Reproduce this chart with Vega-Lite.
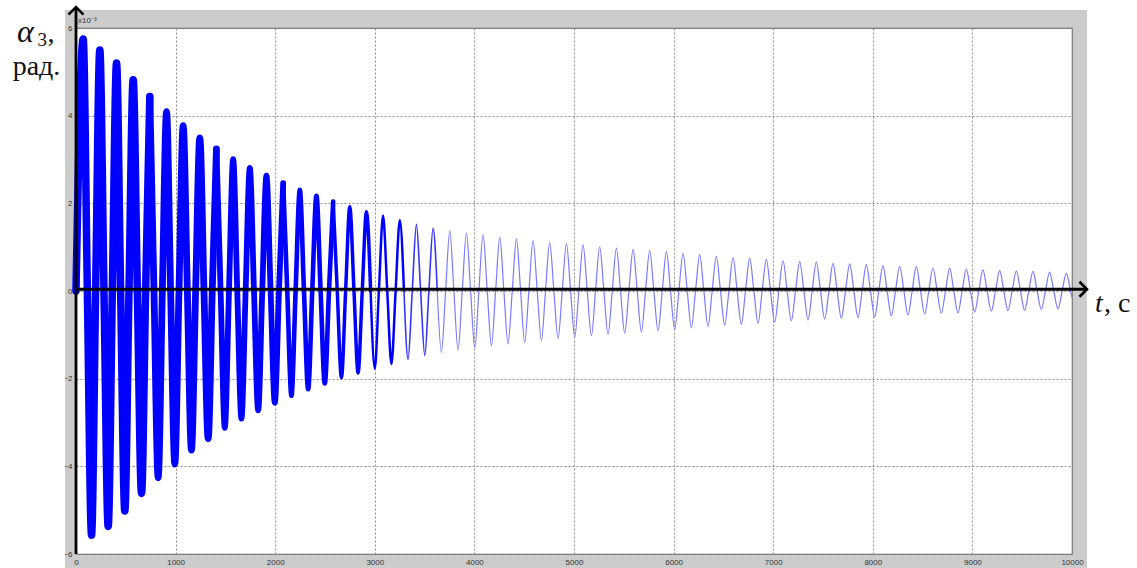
{
"$schema": "https://vega.github.io/schema/vega-lite/v6.json",
"width": 996, "height": 526,
"autosize": {"type": "none"},
"padding": {"left": 76, "top": 28, "right": 65, "bottom": 14},
"background": "#cccccc",
"config": {
 "view": {"fill": "white", "stroke": "#6e6e6e", "strokeWidth": 1.2},
 "axis": {"labelFont": "Liberation Sans", "labelFontSize": 8, "labelColor": "#333333", "ticks": false, "domain": false, "grid": true, "gridColor": "#8c8c8c", "gridDash": [2, 2], "gridWidth": 1, "labelPadding": 4, "labelFlush": false, "labelOverlap": false}
},
"data": {"values": [
{"t":0,"a":0},
{"t":72,"a":5.75},{"t":114,"a":0},{"t":156,"a":-5.57},{"t":197,"a":0},
{"t":239,"a":5.50},{"t":281,"a":0},{"t":323,"a":-5.37},{"t":365,"a":0},
{"t":407,"a":5.20},{"t":448,"a":0},{"t":490,"a":-5.02},{"t":532,"a":0},
{"t":574,"a":4.82},{"t":616,"a":0},{"t":658,"a":-4.62},{"t":699,"a":0},
{"t":741,"a":4.44},{"t":783,"a":0},{"t":825,"a":-4.26},{"t":867,"a":0},
{"t":909,"a":4.09},{"t":950,"a":0},{"t":992,"a":-3.95},{"t":1034,"a":0},
{"t":1076,"a":3.77},{"t":1118,"a":0},{"t":1159,"a":-3.63},{"t":1201,"a":0},
{"t":1243,"a":3.49},{"t":1285,"a":0},{"t":1327,"a":-3.37},{"t":1368,"a":0},
{"t":1410,"a":3.24},{"t":1452,"a":0},{"t":1494,"a":-3.12},{"t":1536,"a":0},
{"t":1578,"a":3.01},{"t":1619,"a":0},{"t":1661,"a":-2.91},{"t":1703,"a":0},
{"t":1745,"a":2.81},{"t":1787,"a":0},{"t":1829,"a":-2.72},{"t":1870,"a":0},
{"t":1912,"a":2.63},{"t":1954,"a":0},{"t":1996,"a":-2.55},{"t":2038,"a":0},
{"t":2080,"a":2.46},{"t":2121,"a":0},{"t":2163,"a":-2.39},{"t":2205,"a":0},
{"t":2247,"a":2.31},{"t":2289,"a":0},{"t":2331,"a":-2.24},{"t":2372,"a":0},
{"t":2414,"a":2.17},{"t":2456,"a":0},{"t":2498,"a":-2.11},{"t":2540,"a":0},
{"t":2582,"a":2.04},{"t":2623,"a":0},{"t":2665,"a":-1.98},{"t":2707,"a":0},
{"t":2749,"a":1.92},{"t":2791,"a":0},{"t":2832,"a":-1.87},{"t":2874,"a":0},
{"t":2916,"a":1.81},{"t":2958,"a":0},{"t":3000,"a":-1.77},{"t":3041,"a":0},
{"t":3083,"a":1.72},{"t":3125,"a":0},{"t":3167,"a":-1.67},{"t":3209,"a":0},
{"t":3251,"a":1.62},{"t":3293,"a":0},{"t":3334,"a":-1.56},{"t":3376,"a":0},
{"t":3418,"a":1.52},{"t":3460,"a":0},{"t":3502,"a":-1.47},{"t":3543,"a":0},
{"t":3585,"a":1.43},{"t":3627,"a":0},{"t":3669,"a":-1.40},{"t":3711,"a":0},
{"t":3753,"a":1.37},{"t":3794,"a":0},{"t":3836,"a":-1.35},{"t":3878,"a":0},
{"t":3920,"a":1.32},{"t":3962,"a":0},{"t":4004,"a":-1.30},{"t":4045,"a":0},
{"t":4087,"a":1.28},{"t":4129,"a":0},{"t":4171,"a":-1.25},{"t":4213,"a":0},
{"t":4255,"a":1.23},{"t":4296,"a":0},{"t":4338,"a":-1.21},{"t":4380,"a":0},
{"t":4422,"a":1.19},{"t":4464,"a":0},{"t":4505,"a":-1.17},{"t":4547,"a":0},
{"t":4589,"a":1.15},{"t":4631,"a":0},{"t":4673,"a":-1.13},{"t":4714,"a":0},
{"t":4756,"a":1.11},{"t":4798,"a":0},{"t":4840,"a":-1.09},{"t":4882,"a":0},
{"t":4924,"a":1.08},{"t":4966,"a":0},{"t":5007,"a":-1.05},{"t":5049,"a":0},
{"t":5091,"a":1.05},{"t":5133,"a":0},{"t":5175,"a":-1.02},{"t":5216,"a":0},
{"t":5258,"a":1.01},{"t":5300,"a":0},{"t":5342,"a":-0.99},{"t":5384,"a":0},
{"t":5426,"a":0.98},{"t":5467,"a":0},{"t":5509,"a":-0.96},{"t":5551,"a":0},
{"t":5593,"a":0.95},{"t":5635,"a":0},{"t":5677,"a":-0.94},{"t":5718,"a":0},
{"t":5760,"a":0.92},{"t":5802,"a":0},{"t":5844,"a":-0.91},{"t":5886,"a":0},
{"t":5928,"a":0.90},{"t":5969,"a":0},{"t":6011,"a":-0.87},{"t":6053,"a":0},
{"t":6095,"a":0.86},{"t":6137,"a":0},{"t":6178,"a":-0.84},{"t":6220,"a":0},
{"t":6262,"a":0.83},{"t":6304,"a":0},{"t":6346,"a":-0.81},{"t":6387,"a":0},
{"t":6429,"a":0.79},{"t":6471,"a":0},{"t":6513,"a":-0.78},{"t":6555,"a":0},
{"t":6597,"a":0.77},{"t":6638,"a":0},{"t":6680,"a":-0.76},{"t":6722,"a":0},
{"t":6764,"a":0.75},{"t":6806,"a":0},{"t":6848,"a":-0.74},{"t":6889,"a":0},
{"t":6931,"a":0.72},{"t":6973,"a":0},{"t":7015,"a":-0.71},{"t":7057,"a":0},
{"t":7099,"a":0.69},{"t":7140,"a":0},{"t":7182,"a":-0.68},{"t":7224,"a":0},
{"t":7266,"a":0.67},{"t":7308,"a":0},{"t":7350,"a":-0.66},{"t":7391,"a":0},
{"t":7433,"a":0.66},{"t":7475,"a":0},{"t":7517,"a":-0.64},{"t":7559,"a":0},
{"t":7601,"a":0.63},{"t":7642,"a":0},{"t":7684,"a":-0.62},{"t":7726,"a":0},
{"t":7768,"a":0.62},{"t":7810,"a":0},{"t":7851,"a":-0.61},{"t":7893,"a":0},
{"t":7935,"a":0.60},{"t":7977,"a":0},{"t":8019,"a":-0.59},{"t":8060,"a":0},
{"t":8102,"a":0.58},{"t":8144,"a":0},{"t":8186,"a":-0.57},{"t":8228,"a":0},
{"t":8270,"a":0.57},{"t":8312,"a":0},{"t":8353,"a":-0.55},{"t":8395,"a":0},
{"t":8437,"a":0.56},{"t":8479,"a":0},{"t":8521,"a":-0.53},{"t":8562,"a":0},
{"t":8604,"a":0.53},{"t":8646,"a":0},{"t":8688,"a":-0.51},{"t":8730,"a":0},
{"t":8772,"a":0.52},{"t":8813,"a":0},{"t":8855,"a":-0.50},{"t":8897,"a":0},
{"t":8939,"a":0.50},{"t":8981,"a":0},{"t":9023,"a":-0.48},{"t":9064,"a":0},
{"t":9106,"a":0.48},{"t":9148,"a":0},{"t":9190,"a":-0.46},{"t":9232,"a":0},
{"t":9274,"a":0.47},{"t":9315,"a":0},{"t":9357,"a":-0.45},{"t":9399,"a":0},
{"t":9441,"a":0.46},{"t":9483,"a":0},{"t":9524,"a":-0.44},{"t":9566,"a":0},
{"t":9608,"a":0.45},{"t":9650,"a":0},{"t":9692,"a":-0.42},{"t":9733,"a":0},
{"t":9775,"a":0.43},{"t":9817,"a":0},{"t":9859,"a":-0.41},{"t":9901,"a":0},
{"t":9943,"a":0.41},{"t":9985,"a":0},{"t":10000,"a":-0.15}
]},
"layer": [
 {"data": {"values": [{}]}, "mark": {"type": "rect", "color": "white"},
  "encoding": {"x": {"datum": -800, "type": "quantitative", "axis": {"title": null}}, "x2": {"datum": -110},
   "y": {"datum": -9, "type": "quantitative", "axis": {"title": null}}, "y2": {"datum": 7}}},
 {"data": {"values": [{}]}, "mark": {"type": "rect", "color": "white"},
  "encoding": {"x": {"datum": -800, "type": "quantitative", "axis": {"title": null}}, "x2": {"datum": 10800}, "y": {"datum": 6.41, "type": "quantitative", "axis": {"title": null}}, "y2": {"datum": 7}}},
 {"data": {"values": [{}]}, "mark": {"type": "rect", "color": "white"},
  "encoding": {"x": {"datum": 10151, "type": "quantitative", "axis": {"title": null}}, "x2": {"datum": 10800}, "y": {"datum": -9, "type": "quantitative", "axis": {"title": null}}, "y2": {"datum": 7}}},
 {"transform": [{"filter": "datum.t <= 741"}], "mark": {"type": "line", "interpolate": "monotone", "color": "#0000ff", "strokeWidth": 7.5, "strokeJoin": "round", "strokeCap": "round"},
  "encoding": {"x": {"field": "t", "type": "quantitative", "scale": {"domain": [0, 10000], "nice": false, "zero": false}, "axis": {"title": null, "format": "d", "values": [0,1000,2000,3000,4000,5000,6000,7000,8000,9000,10000]}},
   "y": {"field": "a", "type": "quantitative", "scale": {"domain": [-6, 6], "nice": false, "zero": false}, "axis": {"title": null, "format": "d", "values": [-6,-4,-2,0,2,4,6]}}}},
 {"transform": [{"filter": "datum.t >= 741 && datum.t <= 1410"}], "mark": {"type": "line", "interpolate": "monotone", "color": "#0000ff", "strokeWidth": 6.8, "strokeJoin": "round", "strokeCap": "round"},
  "encoding": {"x": {"field": "t", "type": "quantitative", "axis": {"title": null}}, "y": {"field": "a", "type": "quantitative", "axis": {"title": null}}}},
 {"transform": [{"filter": "datum.t >= 1410 && datum.t <= 2080"}], "mark": {"type": "line", "interpolate": "monotone", "color": "#0000ff", "strokeWidth": 5.8, "strokeJoin": "round", "strokeCap": "round"},
  "encoding": {"x": {"field": "t", "type": "quantitative", "axis": {"title": null}}, "y": {"field": "a", "type": "quantitative", "axis": {"title": null}}}},
 {"transform": [{"filter": "datum.t >= 2080 && datum.t <= 2582"}], "mark": {"type": "line", "interpolate": "monotone", "color": "#0000ff", "strokeWidth": 4.6, "strokeJoin": "round", "strokeCap": "round"},
  "encoding": {"x": {"field": "t", "type": "quantitative", "axis": {"title": null}}, "y": {"field": "a", "type": "quantitative", "axis": {"title": null}}}},
 {"transform": [{"filter": "datum.t >= 2582 && datum.t <= 2958"}], "mark": {"type": "line", "interpolate": "monotone", "color": "#0000ff", "strokeWidth": 3.5, "strokeJoin": "round", "strokeCap": "round"},
  "encoding": {"x": {"field": "t", "type": "quantitative", "axis": {"title": null}}, "y": {"field": "a", "type": "quantitative", "axis": {"title": null}}}},
 {"transform": [{"filter": "datum.t >= 2958 && datum.t <= 3293"}], "mark": {"type": "line", "interpolate": "monotone", "color": "#0000ff", "strokeWidth": 2.5, "strokeJoin": "round", "strokeCap": "round"},
  "encoding": {"x": {"field": "t", "type": "quantitative", "axis": {"title": null}}, "y": {"field": "a", "type": "quantitative", "axis": {"title": null}}}},
 {"transform": [{"filter": "datum.t >= 3293 && datum.t <= 3627"}], "mark": {"type": "line", "interpolate": "monotone", "color": "#3434ff", "strokeWidth": 1.6, "strokeJoin": "round", "strokeCap": "round"},
  "encoding": {"x": {"field": "t", "type": "quantitative", "axis": {"title": null}}, "y": {"field": "a", "type": "quantitative", "axis": {"title": null}}}},
 {"transform": [{"filter": "datum.t >= 3627"}], "mark": {"type": "line", "interpolate": "monotone", "color": "#7a7aff", "strokeWidth": 1.2, "strokeJoin": "round"},
  "encoding": {"x": {"field": "t", "type": "quantitative", "axis": {"title": null}}, "y": {"field": "a", "type": "quantitative", "axis": {"title": null}}}},
 {"data": {"values": [{}]}, "mark": {"type": "rule", "color": "black", "strokeWidth": 2.8},
  "encoding": {"x": {"datum": 0, "type": "quantitative", "axis": {"title": null}}, "x2": {"datum": 10140}, "y": {"datum": 0.04, "type": "quantitative", "axis": {"title": null}}}},
 {"data": {"values": [{}]}, "mark": {"type": "rule", "color": "black", "strokeWidth": 2.8},
  "encoding": {"x": {"datum": 0, "type": "quantitative", "axis": {"title": null}}, "y": {"datum": -6, "type": "quantitative", "axis": {"title": null}}, "y2": {"datum": 6.45}}},
 {"data": {"values": [{}]}, "mark": {"type": "point", "shape": "M-1,0.5L0,-0.5L1,0.5", "filled": false, "stroke": "black", "strokeWidth": 2.6, "size": 225, "opacity": 1},
  "encoding": {"x": {"datum": 0, "type": "quantitative", "axis": {"title": null}}, "y": {"datum": 6.39, "type": "quantitative", "axis": {"title": null}}}},
 {"data": {"values": [{}]}, "mark": {"type": "point", "shape": "M-0.5,-1L0.5,0L-0.5,1", "filled": false, "stroke": "black", "strokeWidth": 2.6, "size": 225, "opacity": 1},
  "encoding": {"x": {"datum": 10113, "type": "quantitative", "axis": {"title": null}}, "y": {"datum": 0.04, "type": "quantitative", "axis": {"title": null}}}},
 {"data": {"values": [{}]}, "mark": {"type": "text", "text": "x10⁻³", "font": "Liberation Sans", "fontSize": 8, "color": "#333333", "align": "left", "baseline": "alphabetic"},
  "encoding": {"x": {"datum": 20, "type": "quantitative", "axis": {"title": null}}, "y": {"datum": 6.11, "type": "quantitative", "axis": {"title": null}}}},
 {"data": {"values": [{}]}, "mark": {"type": "text", "text": "α", "font": "Liberation Serif", "fontStyle": "italic", "fontSize": 32, "color": "#111111", "align": "left", "baseline": "alphabetic"},
  "encoding": {"x": {"datum": -592, "type": "quantitative", "axis": {"title": null}}, "y": {"datum": 5.69, "type": "quantitative", "axis": {"title": null}}}},
 {"data": {"values": [{}]}, "mark": {"type": "text", "text": "3", "font": "Liberation Serif", "fontSize": 19, "color": "#111111", "align": "left", "baseline": "alphabetic"},
  "encoding": {"x": {"datum": -387, "type": "quantitative", "axis": {"title": null}}, "y": {"datum": 5.59, "type": "quantitative", "axis": {"title": null}}}},
 {"data": {"values": [{}]}, "mark": {"type": "text", "text": ",", "font": "Liberation Serif", "fontSize": 28, "color": "#111111", "align": "left", "baseline": "alphabetic"},
  "encoding": {"x": {"datum": -286, "type": "quantitative", "axis": {"title": null}}, "y": {"datum": 5.69, "type": "quantitative", "axis": {"title": null}}}},
 {"data": {"values": [{}]}, "mark": {"type": "text", "text": "рад.", "font": "Liberation Serif", "fontSize": 28, "color": "#111111", "align": "left", "baseline": "alphabetic"},
  "encoding": {"x": {"datum": -636, "type": "quantitative", "axis": {"title": null}}, "y": {"datum": 4.93, "type": "quantitative", "axis": {"title": null}}}},
 {"data": {"values": [{}]}, "mark": {"type": "text", "text": "t", "font": "Liberation Serif", "fontStyle": "italic", "fontSize": 28, "color": "#111111", "align": "left", "baseline": "alphabetic"},
  "encoding": {"x": {"datum": 10231, "type": "quantitative", "axis": {"title": null}}, "y": {"datum": -0.47, "type": "quantitative", "axis": {"title": null}}}},
 {"data": {"values": [{}]}, "mark": {"type": "text", "text": ", с", "font": "Liberation Serif", "fontSize": 28, "color": "#111111", "align": "left", "baseline": "alphabetic"},
  "encoding": {"x": {"datum": 10321, "type": "quantitative", "axis": {"title": null}}, "y": {"datum": -0.47, "type": "quantitative", "axis": {"title": null}}}}
]
}
